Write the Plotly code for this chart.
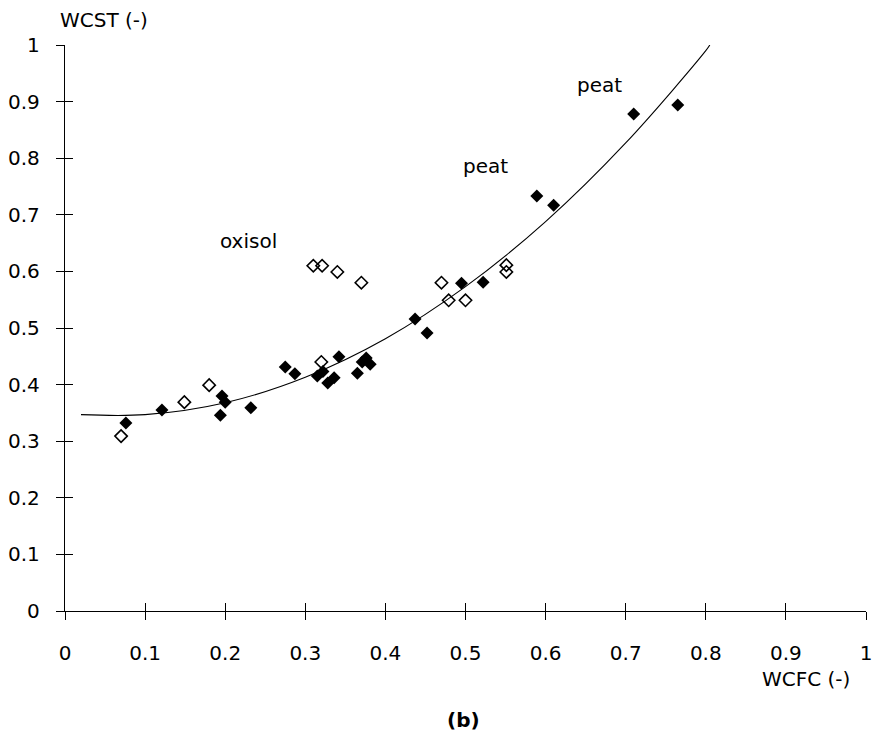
import plotly.graph_objects as go

# Measured water contents: field capacity (WCFC) vs saturation (WCST)
wcfc_filled = [0.076, 0.121, 0.194, 0.196, 0.200, 0.232, 0.275, 0.287, 0.315,
               0.322, 0.328, 0.336, 0.342, 0.365, 0.371, 0.376, 0.381, 0.437,
               0.452, 0.495, 0.522, 0.589, 0.610, 0.710, 0.765]
wcst_filled = [0.332, 0.355, 0.346, 0.380, 0.369, 0.359, 0.431, 0.419, 0.415,
               0.423, 0.403, 0.412, 0.449, 0.420, 0.440, 0.447, 0.436, 0.516,
               0.491, 0.579, 0.581, 0.733, 0.717, 0.878, 0.894]

wcfc_open = [0.070, 0.149, 0.180, 0.320, 0.310, 0.321, 0.340, 0.370, 0.470,
             0.479, 0.500, 0.551, 0.551]
wcst_open = [0.309, 0.369, 0.399, 0.440, 0.610, 0.610, 0.599, 0.580, 0.580,
             0.549, 0.549, 0.611, 0.599]

# Regression curve sampled along WCFC
curve_x = [0.02, 0.10, 0.20, 0.30, 0.40, 0.50, 0.60, 0.70, 0.80, 0.805]
curve_y = [0.347, 0.347, 0.368, 0.413, 0.481, 0.573, 0.688, 0.827, 0.990, 1.0]

tick_vals = [0, 0.1, 0.2, 0.3, 0.4, 0.5, 0.6, 0.7, 0.8, 0.9, 1]
tick_text = ["0", "0.1", "0.2", "0.3", "0.4", "0.5", "0.6", "0.7", "0.8", "0.9", "1"]

FONT = "DejaVu Sans"
FS = 20

fig = go.Figure()
fig.add_trace(go.Scatter(x=curve_x, y=curve_y, mode="lines",
                         line=dict(color="black", width=1.1, shape="spline"),
                         hoverinfo="skip", showlegend=False))
fig.add_trace(go.Scatter(x=wcfc_open, y=wcst_open, mode="markers",
                         marker=dict(symbol="diamond-open", size=9.5,
                                     color="black", line=dict(width=1.6)),
                         showlegend=False))
fig.add_trace(go.Scatter(x=wcfc_filled, y=wcst_filled, mode="markers",
                         marker=dict(symbol="diamond", size=10, color="black"),
                         showlegend=False))
# invisible trace so the inward-tick overlay axes are drawn
fig.add_trace(go.Scatter(x=[0], y=[0], xaxis="x2", yaxis="y2", mode="markers",
                         marker=dict(opacity=0), hoverinfo="skip",
                         showlegend=False))

axis_common = dict(range=[0, 1], tickvals=tick_vals, ticktext=tick_text,
                   showgrid=False, zeroline=False, fixedrange=True)

fig.update_layout(
    width=872, height=737,
    margin=dict(l=65, r=6, t=45, b=126, autoexpand=False),
    paper_bgcolor="white", plot_bgcolor="white",
    font=dict(family=FONT, size=FS, color="black"),
    xaxis=dict(**axis_common, showline=True, linecolor="black", linewidth=1.3,
               ticks="outside", ticklen=8, tickwidth=1.3, tickcolor="black",
               ticklabelstandoff=16, ticklabeloverflow="allow",
               tickfont=dict(size=FS)),
    yaxis=dict(**axis_common, showline=True, linecolor="black", linewidth=1.3,
               ticks="outside", ticklen=8, tickwidth=1.3, tickcolor="black",
               ticklabelstandoff=12, ticklabeloverflow="allow",
               tickfont=dict(size=FS)),
    xaxis2=dict(**axis_common, overlaying="x", anchor="y2", side="bottom",
                showline=False, showticklabels=False, ticks="inside",
                ticklen=8, tickwidth=1.3, tickcolor="black"),
    yaxis2=dict(**axis_common, overlaying="y", anchor="x2", side="left",
                showline=False, showticklabels=False, ticks="inside",
                ticklen=8, tickwidth=1.3, tickcolor="black"),
    annotations=[
        dict(text="WCST (-)", xref="paper", yref="paper", x=-0.009, y=1.044,
             xanchor="left", yanchor="middle", showarrow=False,
             font=dict(size=FS)),
        dict(text="WCFC (-)", xref="paper", yref="paper", x=0.982, y=-0.12,
             xanchor="right", yanchor="middle", showarrow=False,
             font=dict(size=FS)),
        dict(text="<b>(b)</b>", xref="paper", yref="paper", x=0.498, y=-0.193,
             xanchor="center", yanchor="middle", showarrow=False,
             font=dict(size=FS)),
        dict(text="oxisol", x=0.229, y=0.654, xref="x", yref="y",
             showarrow=False, font=dict(size=FS)),
        dict(text="peat", x=0.667, y=0.929, xref="x", yref="y",
             showarrow=False, font=dict(size=FS)),
        dict(text="peat", x=0.525, y=0.786, xref="x", yref="y",
             showarrow=False, font=dict(size=FS)),
    ],
)

fig.write_html("out.html")
